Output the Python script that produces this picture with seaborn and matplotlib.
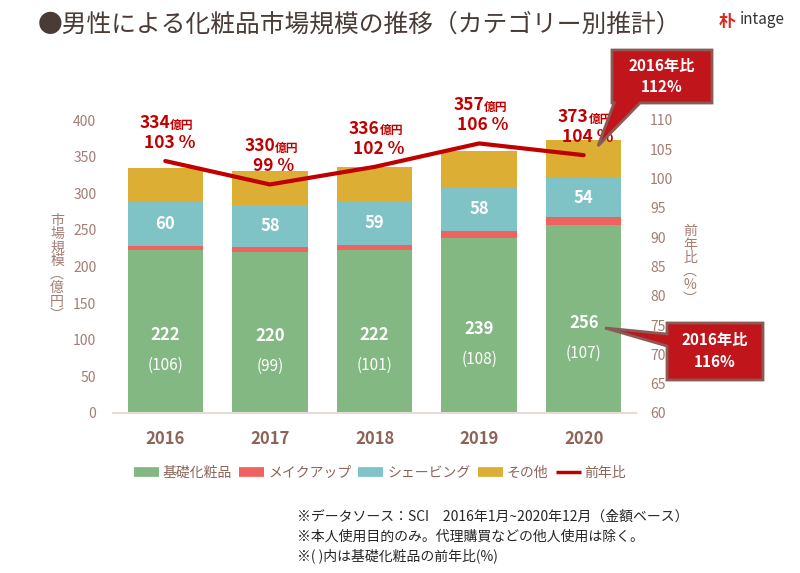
import numpy as np
import pandas as pd
import seaborn as sns
import matplotlib.pyplot as plt
from matplotlib.patches import Polygon
from matplotlib.lines import Line2D

# data
years = ["2016", "2017", "2018", "2019", "2020"]
skincare = [222, 220, 222, 239, 256]      # 基礎化粧品
makeup = [6, 6, 8, 10, 11]                # メイクアップ
shaving = [60, 58, 59, 58, 54]            # シェービング
total = [334, 330, 336, 357, 373]         # 合計 (億円)
yoy = [103, 99, 102, 106, 104]            # 前年比 (%)
skincare_yoy = [106, 99, 101, 108, 107]   # 基礎化粧品の前年比

df = pd.DataFrame({"year": years, "skincare": skincare, "makeup": makeup,
                   "shaving": shaving, "total": total, "yoy": yoy})
df["lvl_makeup"] = df["skincare"] + df["makeup"]
df["lvl_shaving"] = df["lvl_makeup"] + df["shaving"]

c_green = "#83b883"
c_pink = "#f0625f"
c_teal = "#80c3c7"
c_yellow = "#dcae33"
c_red = "#c00000"
c_box = "#c0161b"
c_tick = "#a27d74"
c_lab = "#8d6459"

sns.set_style("white")
plt.rcParams["font.family"] = ["Noto Sans CJK JP", "DejaVu Sans"]

fig = plt.figure(figsize=(8, 5.73), dpi=100)
ax = fig.add_axes([113 / 800, 1 - 413 / 573, 523 / 800, 293 / 573])

# stacked bars, drawn as cumulative levels from the top down
for col, c in [("total", c_yellow), ("lvl_shaving", c_teal),
               ("lvl_makeup", c_pink), ("skincare", c_green)]:
    sns.barplot(data=df, x="year", y=col, color=c, width=0.72,
                saturation=1, ax=ax, linewidth=0)

ax.set_xlim(-0.5, 4.5)
ax.set_ylim(0, 400)
ax.set_yticks(np.arange(0, 401, 50))
ax.set_xlabel("")
ax.set_ylabel("")
for s in ["left", "right", "top"]:
    ax.spines[s].set_visible(False)
ax.spines["bottom"].set_color("#e6dbd7")
ax.spines["bottom"].set_linewidth(1.5)
ax.tick_params(axis="y", length=0, pad=12, labelsize=10, labelcolor=c_tick)
ax.tick_params(axis="x", length=0, pad=12, labelsize=12, labelcolor=c_lab)
for t in ax.get_xticklabels():
    t.set_fontweight("bold")

# labels inside bars
for i in range(len(years)):
    g = skincare[i]
    ax.text(i, g / 2 - 5, str(g), ha="center", va="center",
            color="white", fontsize=12, fontweight="bold")
    ax.text(i, g / 2 - 46, f"({skincare_yoy[i]})", ha="center",
            va="center", color="white", fontsize=11)
    ax.text(i, g + makeup[i] + shaving[i] / 2, str(shaving[i]),
            ha="center", va="center", color="white", fontsize=12,
            fontweight="bold")

# 前年比 line on a second axis
ax2 = ax.twinx()
sns.lineplot(x=np.arange(len(years)), y=yoy, color=c_red, lw=3, ax=ax2)
ax2.set_ylim(60, 110)
ax2.set_yticks(np.arange(60, 111, 5))
ax2.set_xlim(-0.5, 4.5)
for s in ["left", "right", "top", "bottom"]:
    ax2.spines[s].set_visible(False)
ax2.tick_params(axis="y", length=0, pad=10, labelsize=10, labelcolor=c_tick)

for i in range(len(years)):
    ax2.annotate(f"{yoy[i]} %", (i, yoy[i]), xytext=(4, 18),
                 textcoords="offset pixels", ha="center", va="center",
                 color=c_red, fontsize=12.5, fontweight="bold")
    ax2.annotate(str(total[i]), (i, yoy[i]), xytext=(5, 38),
                 textcoords="offset pixels", ha="right", va="center",
                 color=c_red, fontsize=12.5, fontweight="bold")
    ax2.annotate("億円", (i, yoy[i]), xytext=(5, 36),
                 textcoords="offset pixels", ha="left", va="center",
                 color=c_red, fontsize=8.5, fontweight="bold")


def fp(x, y):
    return (x / 800, 1 - y / 573)


# vertical axis titles
fig.text(*fp(57, 268), "\n".join(["市", "場", "規", "模", "︵", "億", "円", "︶"]),
         ha="center", va="center", color=c_tick, fontsize=10, linespacing=0.95)
fig.text(*fp(690, 265), "\n".join(["前", "年", "比", "︵", "%", "︶"]),
         ha="center", va="center", color=c_tick, fontsize=10, linespacing=0.95)

# title and logo
fig.text(*fp(38, 25), "●男性による化粧品市場規模の推移（カテゴリー別推計）",
         ha="left", va="center", color="#4a3b36", fontsize=17.8)
fig.text(*fp(727, 22), "朴", ha="center", va="center", color="#d9261c",
         fontsize=12, fontweight="bold")
fig.text(*fp(740, 20), "intage", ha="left", va="center", color="#333333",
         fontsize=11)

# callouts
top_box = [(612, 50), (712, 50), (712, 103), (640, 103), (598, 146), (614, 103), (612, 103)]
bot_box = [(667, 323), (763, 323), (763, 380), (667, 380), (667, 346), (605, 328), (667, 334)]
for pts in [top_box, bot_box]:
    fig.add_artist(Polygon([fp(x, y) for x, y in pts], closed=True,
                           transform=fig.transFigure, facecolor=c_box,
                           edgecolor="#8a5a55", lw=2))
fig.text(*fp(662, 66), "2016年比", ha="center", va="center", color="white",
         fontsize=11, fontweight="bold")
fig.text(*fp(662, 87), "112%", ha="center", va="center", color="white",
         fontsize=11, fontweight="bold")
fig.text(*fp(715, 340), "2016年比", ha="center", va="center", color="white",
         fontsize=11, fontweight="bold")
fig.text(*fp(715, 362), "116%", ha="center", va="center", color="white",
         fontsize=11, fontweight="bold")

# legend
handles = [Line2D([], [], color=c_green, lw=7, solid_capstyle="butt"),
           Line2D([], [], color=c_pink, lw=7, solid_capstyle="butt"),
           Line2D([], [], color=c_teal, lw=7, solid_capstyle="butt"),
           Line2D([], [], color=c_yellow, lw=7, solid_capstyle="butt"),
           Line2D([], [], color=c_red, lw=2.5, solid_capstyle="butt")]
labels = ["基礎化粧品", "メイクアップ", "シェービング", "その他", "前年比"]
leg = fig.legend(handles, labels, loc="center", bbox_to_anchor=fp(380, 473),
                 ncol=5, frameon=False, fontsize=10, handlelength=1.8,
                 handletextpad=0.3, columnspacing=0.5)
for t in leg.get_texts():
    t.set_color(c_lab)

# footnotes
notes = ["※データソース：SCI　2016年1月~2020年12月（金額ベース）",
         "※本人使用目的のみ。代理購買などの他人使用は除く。",
         "※( )内は基礎化粧品の前年比(%)"]
for k, n in enumerate(notes):
    fig.text(*fp(297, 517 + 19.5 * k), n, ha="left", va="center",
             color="#262626", fontsize=10)

fig.savefig("out.png", dpi=100)
